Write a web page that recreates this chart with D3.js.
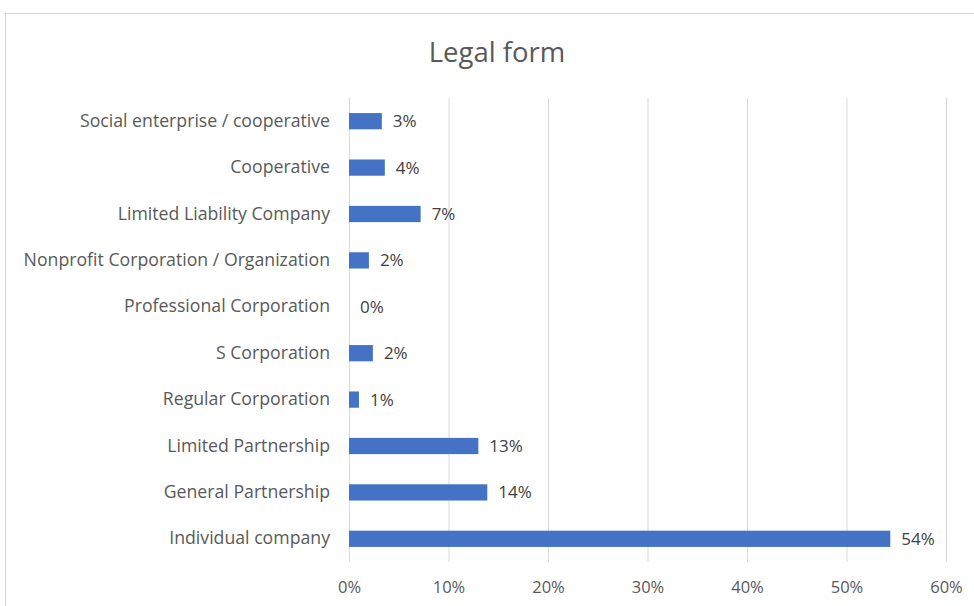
<!DOCTYPE html>
<html>
<head>
<meta charset="utf-8">
<script src="https://cdn.jsdelivr.net/npm/d3@7"></script>
<style>
  body { margin: 0; background: #fff; }
  text { font-family: "Open Sans", Lato, sans-serif; }
</style>
</head>
<body>
<div class="chart"></div>
<script>
var svgWidth = 974;
var svgHeight = 606;

// categories top to bottom
var categories = [
  "Social enterprise / cooperative",
  "Cooperative",
  "Limited Liability Company",
  "Nonprofit Corporation / Organization",
  "Professional Corporation",
  "S Corporation",
  "Regular Corporation",
  "Limited Partnership",
  "General Partnership",
  "Individual company"
];
var values = [3.3, 3.6, 7.2, 2.0, 0, 2.4, 1.0, 13.0, 13.9, 54.4];
var labels = ["3%", "4%", "7%", "2%", "0%", "2%", "1%", "13%", "14%", "54%"];
var ticks = [0, 10, 20, 30, 40, 50, 60];

var margin = { top: 98, right: 28, bottom: 44, left: 349 };
var width = svgWidth - margin.left - margin.right;
var height = svgHeight - margin.top - margin.bottom;

var svg = d3.select(".chart")
  .append("svg")
  .attr("width", svgWidth)
  .attr("height", svgHeight);

// chart border
svg.append("rect")
  .attr("x", 5.5)
  .attr("y", 13.5)
  .attr("width", 975)
  .attr("height", 600)
  .attr("fill", "none")
  .attr("stroke", "#d9d9d9");

svg.append("text")
  .attr("x", 497)
  .attr("y", 62)
  .attr("text-anchor", "middle")
  .attr("font-size", 27.5)
  .attr("fill", "#595959")
  .text("Legal form");

var chartGroup = svg.append("g")
  .attr("transform", `translate(${margin.left}, ${margin.top})`);

var xScale = d3.scaleLinear()
  .domain([0, 60])
  .range([0, width]);

var yScale = d3.scaleBand()
  .domain(categories)
  .range([0, height])
  .paddingInner(0.65)
  .paddingOuter(0.325);

// gridlines
chartGroup.selectAll(".grid")
  .data(ticks)
  .enter()
  .append("line")
  .attr("x1", d => xScale(d) + 0.5)
  .attr("x2", d => xScale(d) + 0.5)
  .attr("y1", 0)
  .attr("y2", height)
  .attr("stroke", "#d9d9d9")
  .attr("stroke-width", 1);

var bottomAxis = d3.axisBottom(xScale)
  .tickValues(ticks)
  .tickSize(0)
  .tickPadding(19)
  .tickFormat(d => d + "%");

var xAxis = chartGroup.append("g")
  .attr("transform", `translate(0, ${height})`)
  .call(bottomAxis);
xAxis.select(".domain").remove();
xAxis.selectAll("text")
  .attr("font-size", 16.5)
  .attr("fill", "#595959")
  .style("font-family", "'Open Sans', Lato, sans-serif");

var leftAxis = d3.axisLeft(yScale)
  .tickSize(0)
  .tickPadding(19);

var yAxis = chartGroup.append("g")
  .call(leftAxis);
yAxis.select(".domain").remove();
yAxis.selectAll("text")
  .attr("font-size", 17.7)
  .attr("fill", "#595959")
  .style("font-family", "'Open Sans', Lato, sans-serif");

chartGroup.selectAll(".bar")
  .data(values)
  .enter()
  .append("rect")
  .attr("x", 0)
  .attr("y", (d, i) => yScale(categories[i]))
  .attr("width", d => xScale(d))
  .attr("height", yScale.bandwidth())
  .attr("fill", "#4472c4");

chartGroup.selectAll(".vlabel")
  .data(values)
  .enter()
  .append("text")
  .attr("x", d => xScale(d) + 11)
  .attr("y", (d, i) => yScale(categories[i]) + yScale.bandwidth() / 2)
  .attr("dy", "0.35em")
  .attr("font-size", 17)
  .attr("fill", "#404040")
  .text((d, i) => labels[i]);
</script>
</body>
</html>
